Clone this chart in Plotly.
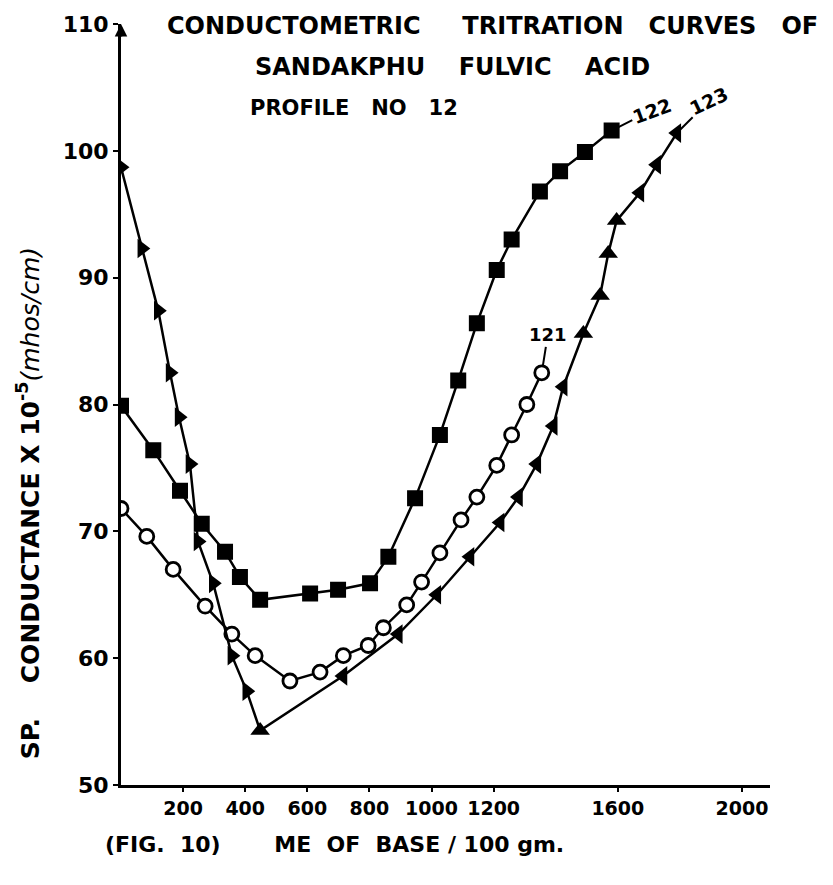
import plotly.graph_objects as go

# ---- data ----
x_121 = [0, 83, 168, 271, 357, 432, 544, 641, 716, 796, 845, 920, 968, 1027, 1095, 1146, 1210, 1258, 1307, 1355]
y_121 = [71.8, 69.6, 67.0, 64.1, 61.9, 60.2, 58.2, 58.9, 60.2, 61.0, 62.4, 64.2, 66.0, 68.3, 70.9, 72.7, 75.2, 77.6, 80.0, 82.5]

x_122 = [0, 104, 190, 260, 335, 383, 448, 609, 699, 802, 861, 947, 1027, 1086, 1146, 1210, 1258, 1349, 1414, 1494, 1580]
y_122 = [79.9, 76.4, 73.2, 70.6, 68.4, 66.4, 64.6, 65.1, 65.4, 65.9, 68.0, 72.6, 77.6, 81.9, 86.4, 90.6, 93.0, 96.8, 98.4, 99.9, 101.6]

x_123 = [0, 67, 120, 158, 187, 222, 248, 297, 357, 405, 448, 715, 893, 1017, 1124, 1221, 1280, 1339, 1392, 1424, 1489, 1543, 1569, 1596, 1671, 1725, 1790]
y_123 = [98.7, 92.3, 87.4, 82.5, 79.0, 75.3, 69.2, 65.9, 60.2, 57.4, 54.3, 58.6, 61.9, 65.0, 68.0, 70.7, 72.7, 75.3, 78.3, 81.4, 85.6, 88.6, 91.9, 94.5, 96.7, 98.9, 101.4]

x_ticks = [200, 400, 600, 800, 1000, 1200, 1600, 2000]
y_ticks = [50, 60, 70, 80, 90, 100, 110]
series_names = ["121", "122", "123"]

# marker orientation for the hand-drawn triangles of curve 123
sym_123 = (["triangle-right"] * 10 + ["triangle-up"] + ["triangle-left"] * 9 + ["triangle-up"] * 4 + ["triangle-left"] * 3)

FONT = "DejaVu Sans"
NB = "\u00a0"
fig = go.Figure()

fig.add_trace(go.Scatter(
    x=x_121, y=y_121, mode="lines+markers", name=series_names[0],
    line=dict(color="black", width=2.5),
    marker=dict(symbol="circle", size=14, color="white", line=dict(color="black", width=2.8)),
))
fig.add_trace(go.Scatter(
    x=x_122, y=y_122, mode="lines+markers", name=series_names[1],
    line=dict(color="black", width=2.5),
    marker=dict(symbol="square", size=14, color="black", line=dict(color="black", width=2)),
))
fig.add_trace(go.Scatter(
    x=x_123, y=y_123, mode="lines+markers", name=series_names[2],
    line=dict(color="black", width=2.5),
    marker=dict(symbol=sym_123, size=17, color="black"),
))

# curve labels with leader lines
fig.add_annotation(x=x_121[-1], y=y_121[-1], text="<b>" + series_names[0] + "</b>",
                   showarrow=True, arrowhead=0, arrowwidth=2, arrowcolor="black", ax=6, ay=-38,
                   font=dict(family=FONT, size=18, color="black"), standoff=7)
fig.add_annotation(x=x_122[-1], y=y_122[-1], text="<b>" + series_names[1] + "</b>",
                   showarrow=True, arrowhead=0, arrowwidth=2, arrowcolor="black", ax=40, ay=-20,
                   textangle=-20, font=dict(family=FONT, size=19, color="black"))
fig.add_annotation(x=x_123[-1], y=y_123[-1], text="<b>" + series_names[2] + "</b>",
                   showarrow=True, arrowhead=0, arrowwidth=2, arrowcolor="black", ax=32, ay=-32,
                   textangle=-25, font=dict(family=FONT, size=19, color="black"))

# arrow head on top of the y axis
fig.add_annotation(xref="paper", yref="paper", x=0, y=1.0, ax=0, ay=14, text="",
                   showarrow=True, arrowhead=2, arrowsize=1, arrowwidth=2.5, arrowcolor="black")

# titles
fig.add_annotation(xref="paper", yref="paper", x=0.068, y=0.997, xanchor="left", yanchor="middle",
                   text="<b>CONDUCTOMETRIC" + NB * 5 + "TRITRATION" + NB * 3 + "CURVES" + NB * 3 + "OF</b>",
                   showarrow=False, font=dict(family=FONT, size=24, color="black"))
fig.add_annotation(xref="paper", yref="paper", x=0.204, y=0.944, xanchor="left", yanchor="middle",
                   text="<b>SANDAKPHU" + NB * 4 + "FULVIC" + NB * 4 + "ACID</b>",
                   showarrow=False, font=dict(family=FONT, size=24, color="black"))
fig.add_annotation(xref="paper", yref="paper", x=0.196, y=0.890, xanchor="left", yanchor="middle",
                   text="<b>PROFILE" + NB * 3 + "NO" + NB * 3 + "12</b>",
                   showarrow=False, font=dict(family=FONT, size=21, color="black"))

# axis titles
fig.add_annotation(xref="paper", yref="paper", x=-0.142, y=0.37, xanchor="center", yanchor="middle",
                   text="<b>SP." + NB * 4 + "CONDUCTANCE X 10<sup>-5</sup></b><i>(mhos/cm)</i>",
                   textangle=-90, showarrow=False, font=dict(family=FONT, size=25, color="black"))
fig.add_annotation(xref="paper", yref="paper", x=-0.027, y=-0.078, xanchor="left", yanchor="middle",
                   text="<b>(FIG." + NB * 2 + "10)" + NB * 7 + "ME" + NB * 2 + "OF" + NB * 2 + "BASE / 100 gm.</b>",
                   showarrow=False, font=dict(family=FONT, size=22, color="black"))

fig.update_layout(
    width=833, height=885,
    margin=dict(l=121, r=63, t=18, b=100),
    plot_bgcolor="white", paper_bgcolor="white",
    showlegend=False,
    xaxis=dict(range=[0, 2090], tickvals=x_ticks, ticktext=[str(v) for v in x_ticks],
               showgrid=False, zeroline=False, showline=True, linecolor="black", linewidth=3,
               ticks="outside", ticklen=4, tickwidth=2, tickcolor="black",
               tickfont=dict(family=FONT, size=19, color="black", weight="bold")),
    yaxis=dict(range=[50, 110], tickvals=y_ticks, ticktext=[str(v) for v in y_ticks],
               showgrid=False, zeroline=False, showline=True, linecolor="black", linewidth=3,
               ticks="outside", ticklen=5, tickwidth=2, tickcolor="black",
               tickfont=dict(family=FONT, size=22, color="black", weight="bold")),
)

fig.write_html("out.html")
